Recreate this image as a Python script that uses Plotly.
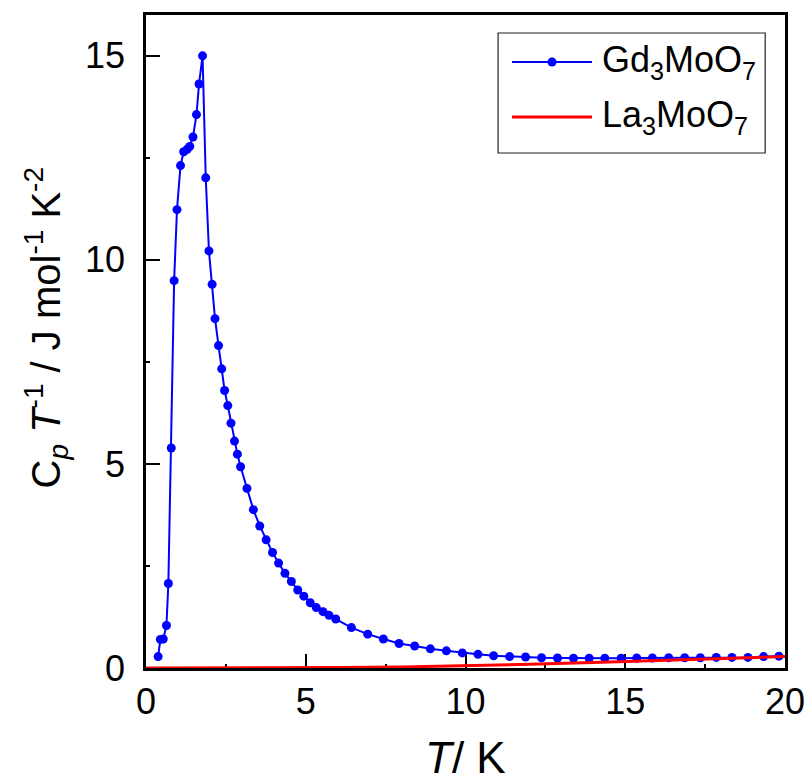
import plotly.graph_objects as go

# Specific heat divided by temperature, Gd3MoO7 (measured points)
gd_T = [0.38, 0.45, 0.54, 0.64, 0.70, 0.79, 0.88, 0.97, 1.08, 1.18, 1.29, 1.37,
        1.47, 1.58, 1.66, 1.77, 1.87, 1.97, 2.07, 2.16, 2.27, 2.37, 2.46, 2.56,
        2.66, 2.77, 2.86, 2.96, 3.16, 3.36, 3.56, 3.76, 3.96, 4.15, 4.35, 4.55,
        4.75, 4.94, 5.14, 5.33, 5.54, 5.73, 5.94, 6.43, 6.94, 7.43, 7.92, 8.41,
        8.90, 9.40, 9.90, 10.39, 10.88, 11.38, 11.88, 12.38, 12.88, 13.38, 13.87,
        14.36, 14.87, 15.36, 15.85, 16.36, 16.86, 17.35, 17.85, 18.34, 18.84,
        19.33, 19.81]
gd_CpT = [0.28, 0.70, 0.71, 1.04, 2.07, 5.39, 9.49, 11.23, 12.31, 12.65, 12.71, 12.78,
          13.01, 13.56, 14.31, 15.00, 12.01, 10.22, 9.40, 8.56, 7.90, 7.33, 6.80, 6.43,
          6.00, 5.56, 5.24, 4.93, 4.40, 3.88, 3.48, 3.14, 2.83, 2.57, 2.32, 2.12,
          1.91, 1.76, 1.60, 1.48, 1.38, 1.29, 1.20, 0.99, 0.83, 0.71, 0.60, 0.54,
          0.47, 0.42, 0.37, 0.335, 0.30, 0.28, 0.27, 0.25, 0.245, 0.24, 0.24,
          0.24, 0.24, 0.245, 0.245, 0.25, 0.25, 0.25, 0.26, 0.26, 0.26,
          0.28, 0.29]

# Non-magnetic reference La3MoO7 (smooth curve)
la_T = [0, 2, 4, 6, 8, 10, 12, 14, 16, 18, 20]
la_CpT = [0.0, 0.001, 0.005, 0.012, 0.025, 0.05, 0.09, 0.135, 0.185, 0.23, 0.28]

x_ticks = [0, 5, 10, 15, 20]
y_ticks = [0, 5, 10, 15]

FONT = "Liberation Sans, Arial, sans-serif"
BLUE = "#0000FF"
RED = "#FF0000"

fig = go.Figure()
fig.add_trace(go.Scatter(
    x=gd_T, y=gd_CpT, mode="lines+markers", name="Gd3MoO7",
    line=dict(color=BLUE, width=2),
    marker=dict(color=BLUE, size=9, line=dict(width=0)),
    showlegend=False,
))
fig.add_trace(go.Scatter(
    x=la_T, y=la_CpT, mode="lines", name="La3MoO7",
    line=dict(color=RED, width=3),
    showlegend=False,
))

axis_common = dict(
    showgrid=False, zeroline=False,
    showline=True, linecolor="black", linewidth=2.5, mirror=True,
    ticks="inside", ticklen=14, tickwidth=2, tickcolor="black",
    tickfont=dict(family=FONT, size=36, color="black"),
    layer="below traces",
)

fig.update_xaxes(
    range=[0, 20], tickvals=x_ticks, ticklabelstandoff=0,
    minor=dict(ticks="inside", ticklen=4, tickwidth=2, tickcolor="black", dtick=2.5),
    **axis_common,
)
fig.update_yaxes(
    range=[0, 16], tickvals=y_ticks, ticklabelstandoff=11,
    minor=dict(ticks="inside", ticklen=4, tickwidth=2, tickcolor="black", dtick=2.5),
    **axis_common,
)

annotations = [
    dict(text="<i>T</i>/ K", xref="paper", yref="paper", x=0.5, y=-0.137,
         xanchor="center", yanchor="middle", showarrow=False,
         font=dict(family=FONT, size=44, color="black")),
    dict(text="C<sub><i>p</i></sub> <i>T</i><sup>-1</sup> / J mol<sup>-1</sup> K<sup>-2</sup>",
         xref="paper", yref="paper", x=-0.157, y=0.521, textangle=-90,
         xanchor="center", yanchor="middle", showarrow=False,
         font=dict(family=FONT, size=40, color="black")),
]

# Legend drawn by hand: box, sample lines, marker and labels
leg_rows = [0.928, 0.8438]
leg_x0, leg_x1 = 0.5728, 0.698
shapes = [
    dict(type="rect", xref="paper", yref="paper", x0=0.551, x1=0.969, y0=0.7887, y1=0.9724,
         line=dict(color="#222222", width=1.2), fillcolor="white", layer="above"),
    dict(type="line", xref="paper", yref="paper", x0=leg_x0, x1=leg_x1,
         y0=leg_rows[0], y1=leg_rows[0], line=dict(color=BLUE, width=1.8)),
    dict(type="circle", xref="paper", yref="paper", xsizemode="pixel", ysizemode="pixel",
         xanchor=(leg_x0 + leg_x1) / 2, yanchor=leg_rows[0], x0=-4.5, x1=4.5, y0=-4.5, y1=4.5,
         fillcolor=BLUE, line=dict(width=0)),
    dict(type="line", xref="paper", yref="paper", x0=leg_x0, x1=leg_x1,
         y0=leg_rows[1], y1=leg_rows[1], line=dict(color=RED, width=3)),
]
labels = ["Gd<sub>3</sub>MoO<sub>7</sub>", "La<sub>3</sub>MoO<sub>7</sub>"]
for lab, yy in zip(labels, leg_rows):
    annotations.append(dict(text=lab, xref="paper", yref="paper", x=0.7105, y=yy,
                            xanchor="left", yanchor="middle", showarrow=False,
                            font=dict(family=FONT, size=36, color="black")))

fig.update_layout(
    width=811, height=784,
    margin=dict(l=146, r=26, t=15, b=116, autoexpand=False),
    paper_bgcolor="white", plot_bgcolor="white",
    annotations=annotations, shapes=shapes,
    showlegend=False,
)

fig.write_html("out.html")
